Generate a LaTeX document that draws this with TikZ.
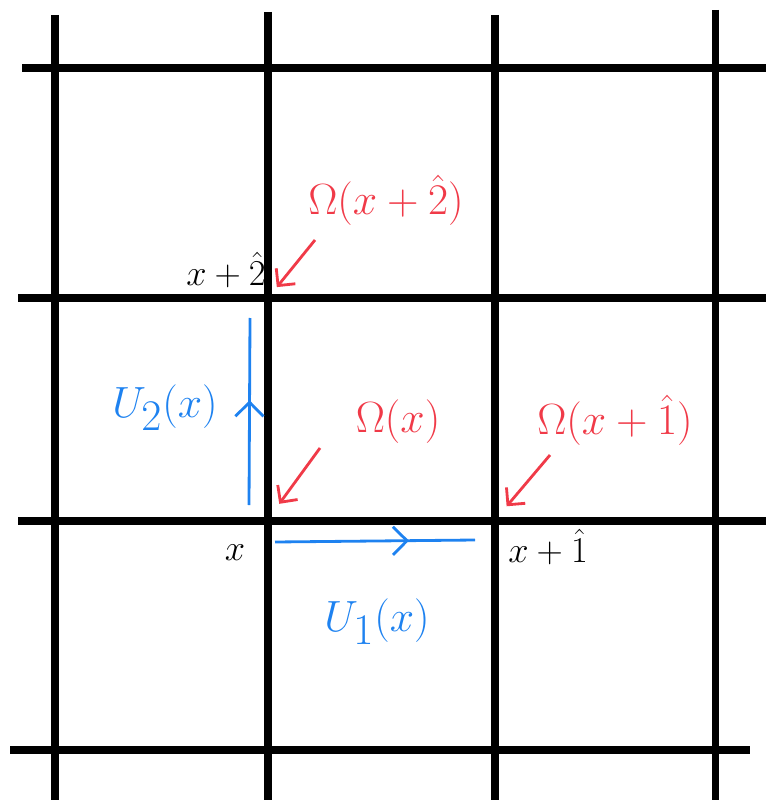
\documentclass[tikz,border=0pt]{standalone}
\usepackage{amsmath, amssymb}
\usepackage{tikz}
\usetikzlibrary{arrows.meta, calc, decorations.markings}
\usepackage{xcolor}
\definecolor{omegared}{RGB}{240,58,72}
\definecolor{linkblue}{RGB}{30,130,240}

\begin{document}
\begin{tikzpicture}[x=0.02cm, y=-0.02cm,
    grid/.style={line width=4pt},
    site/.style={font=\fontsize{21}{24}\selectfont},
    omega/.style={omegared, font=\fontsize{26}{30}\selectfont},
    gauge/.style={omegared, line width=1.6pt, -{Straight Barb[length=7pt, width=14pt]}},
    linkname/.style={linkblue, font=\fontsize{38}{42}\selectfont},
    link/.style={linkblue, line width=1.6pt, postaction={decorate},
        decoration={markings, mark=at position #1 with {\arrow{Straight Barb[length=8pt, width=16pt]}}}}]
        \useasboundingbox (0,0) rectangle (766,800);

        % Lattice
        \foreach \x/\t in {55/15, 268/12, 495/15, 715/10}
            \draw[grid] (\x,\t) -- (\x,800);
        \foreach \y/\l/\r in {68/22/766, 298/18/766, 521/18/766, 750/10/750}
            \draw[grid] (\l,\y) -- (\r,\y);

        % Sites
        \coordinate (x0) at (266,522);
        \coordinate (x1) at (495,520);
        \coordinate (x2) at (268,298);
        \node[site] (lx0) at (235,553) {$x$};
        \node[site] (lx1) at (548,547) {$x+\hat{1}$};
        \node[site] (lx2) at (226,270) {$x+\hat{2}$};

        % Gauge transformations
        \node[omega] (om2) at (386,200) {$\Omega(x+\hat{2})$};
        \node[omega] (om0) at (398,422) {$\Omega(x)$};
        \node[omega] (om1) at (615,420) {$\Omega(x+\hat{1})$};
        \coordinate (t2) at (315,240);
        \coordinate (t0) at (320,448);
        \coordinate (t1) at (550,455);
        \draw[gauge, shorten >=0.28cm] (t2) -- (x2);
        \draw[gauge, shorten >=0.45cm] (t0) -- (x0);
        \draw[gauge, shorten >=0.36cm] (t1) -- (x1);

        % Links
        \draw[link=0.67] ($(x0)+(9,20)$) -- ($(x1)+(-20,20)$);
        \draw[link=0.56] ($(x0)+(-17,-17)$) -- ($(x2)+(-18,20)$);
        \node[linkname] (u1) at (377,622) {$U_1(x)$};
        \node[linkname] (u2) at (165,408) {$U_2(x)$};
    \end{tikzpicture}
\end{document}
